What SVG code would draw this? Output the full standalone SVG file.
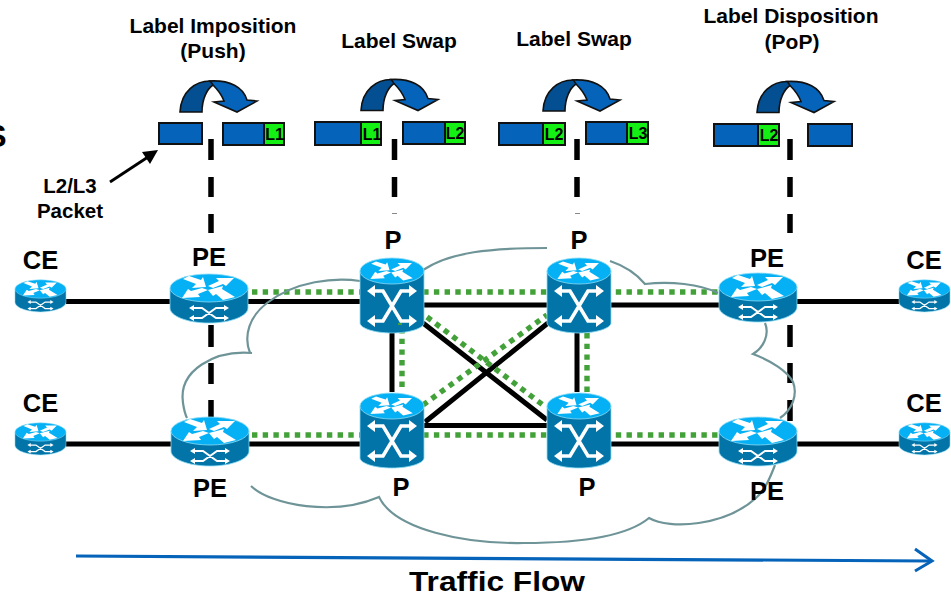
<svg xmlns="http://www.w3.org/2000/svg" width="951" height="597" viewBox="0 0 951 597">
<style>
text{font-family:"Liberation Sans",Arial,sans-serif;font-weight:bold;fill:#000;text-anchor:middle}
.t21{font-size:21px}.t20{font-size:20.5px}.t25{font-size:25.5px}.t15{font-size:16px}
.lk{stroke:#000;stroke-width:5;fill:none}
.gr{stroke:#43a139;stroke-width:5.4;stroke-dasharray:5.4 5.3;fill:none}
.da{stroke:#000;stroke-width:5.5;fill:none}
.cl{stroke:#6f9498;stroke-width:2.2;fill:none}
.bl{fill:#0563b9;stroke:#111;stroke-width:2}
.gn{fill:#14f014;stroke:#111;stroke-width:2}
.top{fill:#05b0f5;stroke:#8adcf5;stroke-width:.8}
.side{fill:#0274a8;stroke:#8adcf5;stroke-width:.8}
.w{fill:#fff}.ws{stroke:#fff;fill:none}
</style>
<defs>
<g id="flip">
<path d="M0 31C1 10 16 0 30 0C36 0 33 2 33 4C27 8 22 18 22 31Z" fill="#034f91" stroke="#111" stroke-width="1.6"/>
<path d="M30 0C50-1 63 6 67 19L77 20L57 31L34 21L44 20C41 12 36 7 33 4C32 2 31 1 30 0Z" fill="#0563b9" stroke="#111" stroke-width="1.6"/>
</g>
<g id="arrows4">
<path class="w" d="M-26-9L-20-12L-8-8L-6-11L-3-1L-17 0L-13-4ZM-1-2L10-7L7-10L25-10L17-2L14-4L4 0ZM-1 2L-11 6L-9 9L-27 10L-21 1L-18 3L-7 0ZM-1 2L14-2L13 1L26 9L14 12L7 6L4 8Z"/>
</g>
<g id="router">
<path class="side" d="M-39 0V20C-39 28-22 35 0 35S39 28 39 20V0Z"/>
<ellipse class="top" cx="0" cy="0" rx="39" ry="14"/>
<use href="#arrows4"/>
<path class="ws" stroke-width="2" d="M-16 20H-7L7 30H16M-16 30H-7L7 20H16"/>
<path class="w" d="M-20 20L-15 17V23ZM-20 30L-15 27V33ZM20 20L15 17V23ZM20 30L15 27V33Z"/>
</g>
<g id="switch">
<path class="side" d="M-32 0V52C-32 57-18 62 0 62S32 57 32 52V0Z"/>
<ellipse class="top" cx="0" cy="0" rx="32" ry="13"/>
<use href="#arrows4" transform="scale(.8)"/>
<path class="ws" stroke-width="3.600" d="M-19 20H-9L9 50H19M19 20H9L-9 50H-19"/>
<path class="w" d="M-25 20L-17 14V26ZM25 20L17 14V26ZM-25 50L-17 44V56ZM25 50L17 44V56Z"/>
</g>
</defs>

<g id="connectors">
<path class="lk" d="M66 301.500H170M248 301.500H360M424 305H547M611 305H719M797 301.500H899"/>
<path class="lk" d="M66 444H171M249 444H360M424 425.500H547M611 444H719M797 444H899"/>
<path class="lk" d="M392 333V392M577 333V392M423 323L547 420M425 422L548 323"/>
<path class="gr" d="M252 292H719"/>
<path class="gr" d="M252 435H719"/>
<path class="gr" d="M402 328V392"/>
<path class="gr" d="M587 333V392"/>
<path class="gr" d="M427 317L543 405"/>
<path class="gr" d="M423 405L547 315"/>
<g class="da">
<path d="M211 139V160M211 177V197M211 214V233M211 325V347M211 363V384M211 400V417"/>
<path d="M394.500 139V160M394.500 177V197"/>
<path d="M577 139V160M577 177V197"/>
<path d="M790 139V160M790 177V197M790 214V233M790 325V347M790 363V383M790 400V421"/>
</g>
<path d="M392 213.500H397M575 213.500H580" stroke="#888" stroke-width="1"/>
<path d="M110 182L148 157" stroke="#000" stroke-width="2.800" fill="none"/>
<path d="M158 150L142 152L150 164Z" fill="#000"/>
<path d="M76 556L930 561" stroke="#0563b9" stroke-width="3.200" fill="none"/>
<path d="M915 549L932 561L915 571" stroke="#0563b9" stroke-width="3" fill="none"/>
</g>

<g id="cloud">
<path class="cl" d="M360 281C335 277 295 281 267 303C250 316 243 335 250 353"/>
<path class="cl" d="M252 353C215 350 178 370 183 403C184 410 185 414 187 418"/>
<path class="cl" d="M423 270C450 252 490 248 547 248"/>
<path class="cl" d="M610 261C622 265 635 272 645 284C670 281 700 284 718 293"/>
<path class="cl" d="M765 323C770 335 763 348 753 354C772 361 788 372 793 382C798 395 792 410 780 418"/>
<path class="cl" d="M251 486C272 506 335 516 379 497C395 530 465 544 524 543C575 543 625 538 649 518C670 530 725 526 756 498C765 490 770 478 775 465"/>
</g>

<g id="ce-top-left"><use href="#router" transform="translate(40.500 289) scale(.654)"/></g>
<g id="ce-bottom-left"><use href="#router" transform="translate(40.500 432) scale(.654)"/></g>
<g id="pe-top-left"><use href="#router" transform="translate(209 288)"/></g>
<g id="pe-bottom-left"><use href="#router" transform="translate(210 431)"/></g>
<g id="p-top-left"><use href="#switch" transform="translate(392 271)"/></g>
<g id="p-top-right"><use href="#switch" transform="translate(579 271)"/></g>
<g id="p-bottom-left"><use href="#switch" transform="translate(392 406)"/></g>
<g id="p-bottom-right"><use href="#switch" transform="translate(579 406)"/></g>
<g id="pe-top-right"><use href="#router" transform="translate(758 287)"/></g>
<g id="pe-bottom-right"><use href="#router" transform="translate(758 431)"/></g>
<g id="ce-top-right"><use href="#router" transform="translate(924.500 289) scale(.654)"/></g>
<g id="ce-bottom-right"><use href="#router" transform="translate(924.500 432) scale(.654)"/></g>
<path d="M402 324H398" stroke="#43a139" stroke-width="2"/>

<g id="op-push"><use href="#flip" transform="translate(180 81)"/></g>
<g id="op-swap1"><use href="#flip" transform="translate(361 79.500)"/></g>
<g id="op-swap2"><use href="#flip" transform="translate(543 80)"/></g>
<g id="op-pop"><use href="#flip" transform="translate(757 81.500)"/></g>

<g id="packet-1"><rect class="bl" x="159" y="123" width="43" height="21"/></g>
<g id="packet-2"><rect class="bl" x="223" y="123" width="41" height="22"/><rect class="gn" x="264" y="123" width="20" height="22"/><text class="t15" x="274.500" y="140">L1</text></g>
<g id="packet-3"><rect class="bl" x="315" y="122" width="46" height="23"/><rect class="gn" x="361" y="122" width="20" height="23"/><text class="t15" x="372" y="140">L1</text></g>
<g id="packet-4"><rect class="bl" x="403" y="122" width="42" height="22"/><rect class="gn" x="445" y="122" width="20" height="22"/><text class="t15" x="455" y="139">L2</text></g>
<g id="packet-5"><rect class="bl" x="499" y="123" width="44" height="22"/><rect class="gn" x="543" y="123" width="22" height="22"/><text class="t15" x="554" y="140">L2</text></g>
<g id="packet-6"><rect class="bl" x="586" y="122" width="41" height="22"/><rect class="gn" x="627" y="122" width="21" height="22"/><text class="t15" x="638" y="139">L3</text></g>
<g id="packet-7"><rect class="bl" x="714" y="124" width="44" height="22"/><rect class="gn" x="758" y="124" width="21" height="22"/><text class="t15" x="769" y="141">L2</text></g>
<g id="packet-8"><rect class="bl" x="808" y="124" width="44" height="22"/></g>

<g id="labels">
<text class="t21" x="213" y="33">Label Imposition</text>
<text class="t21" x="213" y="58">(Push)</text>
<text class="t21" x="399" y="48">Label Swap</text>
<text class="t21" x="574" y="46">Label Swap</text>
<text class="t21" x="791" y="23">Label Disposition</text>
<text class="t21" x="792" y="49">(PoP)</text>
<text x="-4" y="147" style="font-size:32px">S</text>
<text class="t20" x="70" y="193">L2/L3</text>
<text class="t20" x="70" y="218">Packet</text>
<text class="t25" x="40.500" y="268.500">CE</text>
<text class="t25" x="40.500" y="411.500">CE</text>
<text class="t25" x="924" y="268.500">CE</text>
<text class="t25" x="924" y="411.500">CE</text>
<text class="t25" x="209" y="266">PE</text>
<text class="t25" x="210" y="497">PE</text>
<text class="t25" x="767" y="267">PE</text>
<text class="t25" x="767" y="500">PE</text>
<text class="t25" x="393" y="249">P</text>
<text class="t25" x="579" y="249">P</text>
<text class="t25" x="401" y="496">P</text>
<text class="t25" x="587" y="496">P</text>
<text x="497" y="591" textLength="176" lengthAdjust="spacingAndGlyphs" style="font-size:28px">Traffic Flow</text>
</g>
</svg>
